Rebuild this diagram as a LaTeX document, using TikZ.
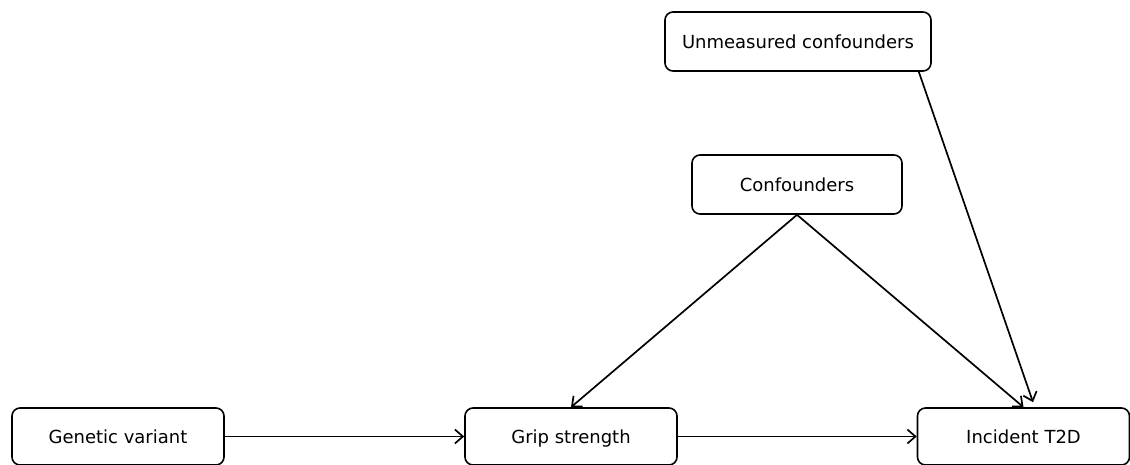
\documentclass[tikz,border=0pt]{standalone}
\usepackage{fontspec}
\setmainfont{DejaVu Sans}
\usepackage{tikz}
\usetikzlibrary{arrows.meta, positioning}
\tikzstyle{factor} = [rectangle, rounded corners=8pt, minimum width=212pt, minimum height=57pt, text centered, text height=16pt, text depth=2.5pt, draw=black, line width=1.6pt, font=\fontsize{18}{21}\selectfont]

\begin{document}
\begin{tikzpicture}[x=1pt, y=-1pt]
\useasboundingbox (0,0) rectangle (1130,465);
\node (gen) [factor] at (118,436.5) {Genetic variant};
\node (grip) [factor] at (571,436.5) {Grip strength};
\node (t2d) [factor] at (1023.5,436.5) {Incident T2D};
\node (conf) [factor, minimum width=210pt, minimum height=59pt] at (797,184.5) {Confounders};
\node (unm) [factor, minimum width=266pt, minimum height=59pt] at (798,41.5) {Unmeasured confounders};
\draw[-{Straight Barb[length=8pt, width=14pt]}, line width=1.7pt] (gen) -- (grip);
\draw[-{Straight Barb[length=8pt, width=14pt]}, line width=1.7pt] (grip) -- (t2d);
\draw[-{Straight Barb[length=8pt, width=14pt]}, line width=1.7pt] (conf.south) -- (grip.north);
\draw[-{Straight Barb[length=8pt, width=14pt]}, line width=1.7pt] (conf.south) -- (t2d.north);
\draw[-{Straight Barb[length=8pt, width=14pt]}, line width=1.7pt] ([xshift=-13pt]unm.south east) -- ([xshift=9.5pt, yshift=5pt]t2d.north);
\end{tikzpicture}
\end{document}
